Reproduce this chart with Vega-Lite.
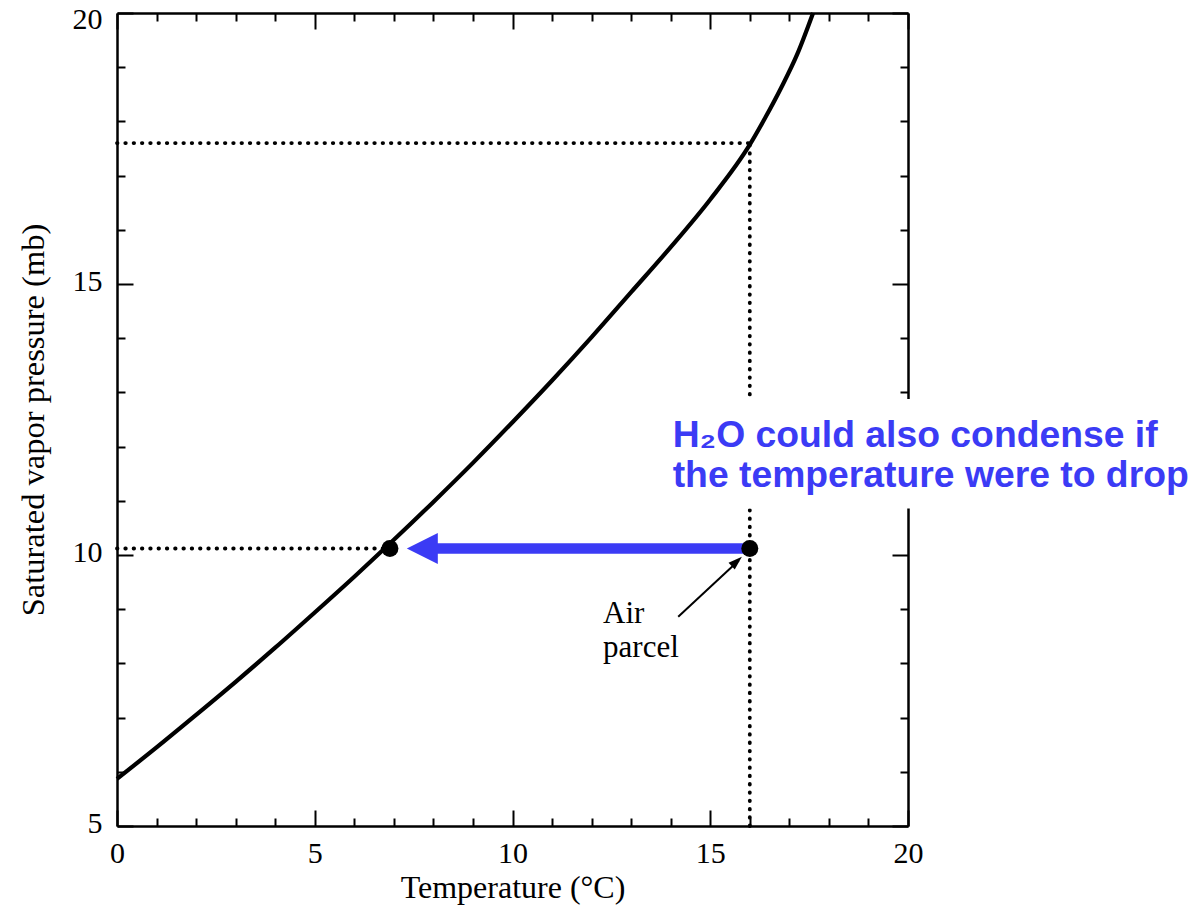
{
  "$schema": "https://vega.github.io/schema/vega-lite/v6.json",
  "width": 791,
  "height": 813,
  "autosize": "none",
  "padding": {"left": 117, "top": 13, "right": 284, "bottom": 91},
  "background": "white",
  "config": {"view": {"stroke": null}},
  "datasets": {
    "curve": [
      {"T": 0, "p": 5.87},
      {"T": 1, "p": 6.45},
      {"T": 2, "p": 7.05},
      {"T": 3, "p": 7.66},
      {"T": 4, "p": 8.29},
      {"T": 5, "p": 8.94},
      {"T": 6, "p": 9.6},
      {"T": 7, "p": 10.28},
      {"T": 8, "p": 10.98},
      {"T": 9, "p": 11.7},
      {"T": 10, "p": 12.45},
      {"T": 11, "p": 13.22},
      {"T": 12, "p": 14.02},
      {"T": 13, "p": 14.85},
      {"T": 14, "p": 15.68},
      {"T": 15, "p": 16.56},
      {"T": 16, "p": 17.57},
      {"T": 16.4, "p": 18.08},
      {"T": 16.8, "p": 18.63},
      {"T": 17.2, "p": 19.24},
      {"T": 17.6, "p": 20.0}
    ],
    "dotted": [
      {"T": 0, "p": 17.6, "T2": 16, "p2": 17.6},
      {"T": 16, "p": 5, "T2": 16, "p2": 17.6},
      {"T": 0, "p": 10.12, "T2": 6.9, "p2": 10.12}
    ],
    "note": [
      {"T": 13.85, "p": 10.86, "T2": 28, "p2": 12.88, "label": "H₂O could also condense if\nthe temperature were to drop", "lx": 14.05, "ly": 11.99}
    ],
    "shift": [
      {"T": 7.9, "T2": 16, "p": 10.12, "head": 7.72}
    ],
    "states": [
      {"T": 6.9, "p": 10.12},
      {"T": 16, "p": 10.12}
    ],
    "pointer": [
      {"T": 14.19, "p": 8.86, "T2": 15.72, "p2": 9.9, "tipT": 15.8, "tipP": 9.97, "lx": 12.29, "ly": 8.745, "label": "Air\nparcel"}
    ]
  },
  "layer": [
    {
      "layer": [
        {
          "data": {"name": "curve"},
          "mark": {"type": "line", "color": "black", "strokeWidth": 4.2, "interpolate": "monotone", "clip": false},
          "encoding": {
            "x": {
              "field": "T", "type": "quantitative",
              "scale": {"domain": [0, 20], "nice": false, "zero": false},
              "axis": {
                "orient": "bottom",
                "values": [0, 5, 10, 15, 20],
                "tickSize": -16,
                "tickWidth": 2, "tickColor": "black",
                "domainColor": "black", "domainWidth": 2.5,
                "grid": false,
                "labelFont": "Liberation Serif", "labelFontSize": 30, "labelColor": "black",
                "labelPadding": 28, "labelFlush": false, "labelOverlap": false,
                "title": "Temperature (°C)",
                "titleFont": "Liberation Serif", "titleFontSize": 32, "titleFontWeight": "normal", "titleColor": "black",
                "titlePadding": 4
              }
            },
            "y": {
              "field": "p", "type": "quantitative",
              "scale": {"domain": [5, 20], "nice": false, "zero": false},
              "axis": {
                "orient": "left",
                "values": [5, 10, 15, 20],
                "tickSize": -16,
                "tickWidth": 2, "tickColor": "black",
                "domainColor": "black", "domainWidth": 2.5,
                "grid": false,
                "labelFont": "Liberation Serif", "labelFontSize": 30, "labelColor": "black",
                "labelPadding": 31, "labelFlush": false, "labelOverlap": false,
                "labelOffset": {"condition": {"test": "datum.value === 20", "value": 6}, "value": -3},
                "title": "Saturated vapor pressure (mb)",
                "titleFont": "Liberation Serif", "titleFontSize": 32.5, "titleFontWeight": "normal", "titleColor": "black",
                "titlePadding": 22
              }
            }
          }
        },
        {
          "data": {"name": "dotted"},
          "mark": {"type": "rule", "color": "black", "strokeWidth": 3.8, "strokeDash": [0.5, 7.8], "strokeCap": "round"},
          "encoding": {
            "x": {"field": "T", "type": "quantitative"},
            "y": {"field": "p", "type": "quantitative"},
            "x2": {"field": "T2"},
            "y2": {"field": "p2"}
          }
        },
        {
          "data": {"name": "note"},
          "mark": {"type": "rect", "color": "white", "clip": false},
          "encoding": {
            "x": {"field": "T", "type": "quantitative"},
            "y": {"field": "p", "type": "quantitative"},
            "x2": {"field": "T2"},
            "y2": {"field": "p2"}
          }
        },
        {
          "data": {"name": "note"},
          "mark": {"type": "text", "align": "left", "baseline": "alphabetic", "font": "Liberation Sans", "fontWeight": "bold", "fontSize": 37.3, "color": "#3b3bf5", "lineBreak": "\n", "lineHeight": 40},
          "encoding": {
            "x": {"field": "lx", "type": "quantitative"},
            "y": {"field": "ly", "type": "quantitative"},
            "text": {"field": "label"}
          }
        },
        {
          "data": {"name": "shift"},
          "mark": {"type": "rule", "color": "#3b3bf5", "strokeWidth": 10.5, "strokeCap": "butt"},
          "encoding": {
            "x": {"field": "T", "type": "quantitative"},
            "x2": {"field": "T2"},
            "y": {"field": "p", "type": "quantitative"}
          }
        },
        {
          "data": {"name": "shift"},
          "mark": {"type": "point", "shape": "M-1,0L1,-1L1,1Z", "size": 961, "filled": true, "color": "#3b3bf5", "opacity": 1},
          "encoding": {
            "x": {"field": "head", "type": "quantitative"},
            "y": {"field": "p", "type": "quantitative"}
          }
        },
        {
          "data": {"name": "states"},
          "mark": {"type": "point", "shape": "circle", "size": 290, "filled": true, "color": "black", "opacity": 1},
          "encoding": {
            "x": {"field": "T", "type": "quantitative"},
            "y": {"field": "p", "type": "quantitative"}
          }
        },
        {
          "data": {"name": "pointer"},
          "mark": {"type": "rule", "color": "black", "strokeWidth": 2},
          "encoding": {
            "x": {"field": "T", "type": "quantitative"},
            "y": {"field": "p", "type": "quantitative"},
            "x2": {"field": "T2"},
            "y2": {"field": "p2"}
          }
        },
        {
          "data": {"name": "pointer"},
          "mark": {"type": "point", "shape": "M0,0L-2,-0.65L-2,0.65Z", "size": 196, "angle": -43, "filled": true, "color": "black", "opacity": 1},
          "encoding": {
            "x": {"field": "tipT", "type": "quantitative"},
            "y": {"field": "tipP", "type": "quantitative"}
          }
        },
        {
          "data": {"name": "pointer"},
          "mark": {"type": "text", "align": "left", "baseline": "alphabetic", "font": "Liberation Serif", "fontSize": 31, "color": "black", "lineBreak": "\n", "lineHeight": 34},
          "encoding": {
            "x": {"field": "lx", "type": "quantitative"},
            "y": {"field": "ly", "type": "quantitative"},
            "text": {"field": "label"}
          }
        }
      ]
    },
    {
      "data": {"name": "curve"},
      "mark": {"type": "line", "strokeOpacity": 0},
      "encoding": {
        "x": {
          "field": "T", "type": "quantitative",
          "scale": {"domain": [0, 20], "nice": false, "zero": false},
          "axis": {
            "orient": "bottom",
            "values": [1, 2, 3, 4, 6, 7, 8, 9, 11, 12, 13, 14, 16, 17, 18, 19],
            "labels": false, "title": null, "grid": false, "domain": false,
            "tickSize": -8, "tickWidth": 2, "tickColor": "black"
          }
        },
        "y": {
          "field": "p", "type": "quantitative",
          "scale": {"domain": [5, 20], "nice": false, "zero": false},
          "axis": {
            "orient": "left",
            "values": [6, 7, 8, 9, 11, 12, 13, 14, 16, 17, 18, 19],
            "labels": false, "title": null, "grid": false, "domain": false,
            "tickSize": -8, "tickWidth": 2, "tickColor": "black"
          }
        }
      }
    },
    {
      "data": {"name": "curve"},
      "mark": {"type": "line", "strokeOpacity": 0},
      "encoding": {
        "x": {
          "field": "T", "type": "quantitative",
          "scale": {"domain": [0, 20], "nice": false, "zero": false},
          "axis": {
            "orient": "top",
            "values": [0, 1, 2, 3, 4, 5, 6, 7, 8, 9, 10, 11, 12, 13, 14, 15, 16, 17, 18, 19, 20],
            "labels": false, "title": null, "grid": false,
            "tickSize": {"condition": {"test": "datum.value % 5 === 0", "value": -16}, "value": -8},
            "tickWidth": 2, "tickColor": "black",
            "domainColor": "black", "domainWidth": 2.5
          }
        },
        "y": {
          "field": "p", "type": "quantitative",
          "scale": {"domain": [5, 20], "nice": false, "zero": false},
          "axis": {
            "orient": "right",
            "values": [5, 6, 7, 8, 9, 10, 11, 12, 13, 14, 15, 16, 17, 18, 19, 20],
            "labels": false, "title": null, "grid": false,
            "tickSize": {"condition": {"test": "datum.value % 5 === 0", "value": -16}, "value": -8},
            "tickWidth": 2, "tickColor": "black",
            "domainColor": "black", "domainWidth": 2.5
          }
        }
      }
    }
  ],
  "resolve": {"scale": {"x": "independent", "y": "independent"}}
}
